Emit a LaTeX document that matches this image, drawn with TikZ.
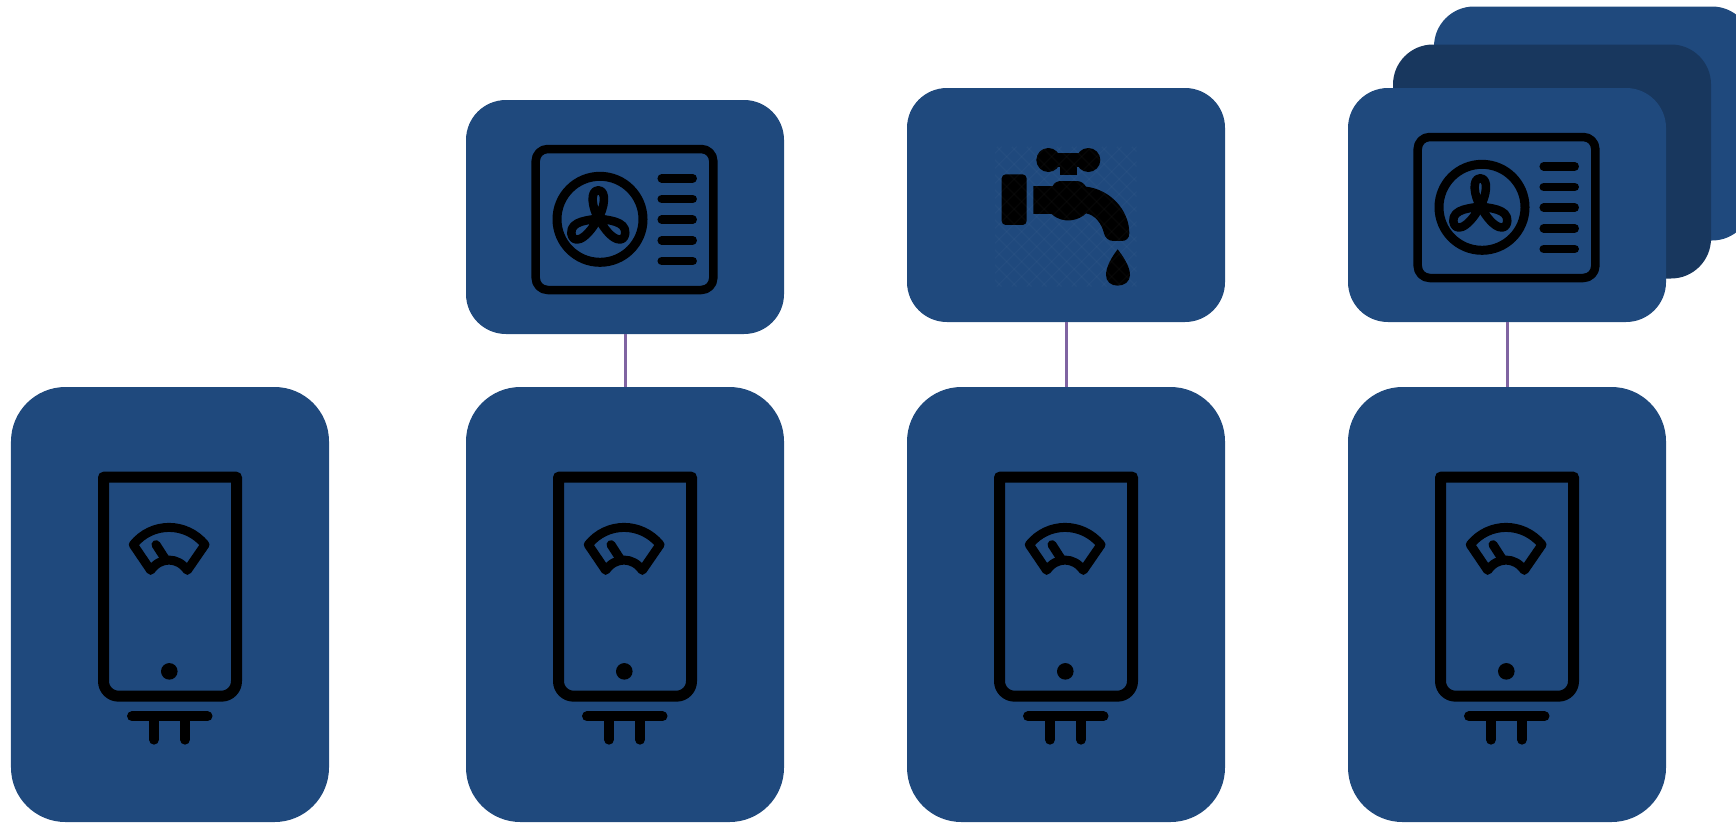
\documentclass[tikz,border=0pt]{standalone}
\usepackage{tikz}
\definecolor{BoxBlue}{RGB}{31,73,125}
\definecolor{BoxDark}{RGB}{24,55,94}
\definecolor{LinkPurple}{RGB}{128,100,162}
\tikzset{
  iconline/.style={black,line cap=round,line join=round},
  tankbox/.style={fill=BoxBlue,rounded corners=10.9mm,minimum width=63.6mm,minimum height=87mm,inner sep=0pt},
  unitbox/.style={fill=BoxBlue,rounded corners=8mm,minimum width=63.6mm,minimum height=46.8mm,inner sep=0pt},
  linkline/.style={LinkPurple,line width=.6mm},
  tankicon/.pic={
    \draw[iconline,line width=2.2mm] (-66.5,90.5) -- (66.5,90.5)
      [rounded corners=3mm] -- (66.5,309.5) -- (-66.5,309.5) [sharp corners] -- cycle;
    \draw[iconline,line width=1.8mm] (-36.7,158) .. controls (-18,135) and (16,135) .. (35,158)
      -- (17.3,183.7) .. controls (8,170) and (-10,170) .. (-19.3,183.7) -- cycle;
    \draw[iconline,line width=1.8mm] (-14,158) -- (-5,172);
    \fill (-.7,284.7) circle (8.3);
    \draw[iconline,line width=2mm] (-38,329.7) -- (37.5,329.7);
    \draw[iconline,line width=2mm] (-16,329.7) -- (-16,353);
    \draw[iconline,line width=2mm] (15,329.7) -- (15,353);
  },
  fanicon/.pic={
    \draw[iconline,line width=1.7mm,rounded corners=2.4mm] (-89.3,-68) rectangle (88.3,73);
    \draw[iconline,line width=1.8mm] (-25,2.3) circle (43);
    % three blades
    \begin{scope}[shift={(-26.7,1.3)}]
      \draw[iconline,line width=1.7mm] (0,0) .. controls (-6,-10) and (-9,-28) .. (0,-28)
        .. controls (9,-28) and (6,-10) .. (0,0);
      \draw[iconline,line width=1.7mm] (0,0) .. controls (-8,2) and (-28,2) .. (-27,15)
        .. controls (-26,25) and (-14,25) .. (0,0);
      \draw[iconline,line width=1.7mm] (0,0) .. controls (8,2) and (28,2) .. (27,15)
        .. controls (26,25) and (14,25) .. (0,0);
    \end{scope}
    \foreach \ventY in {-38.7,-18,2.7,23.3,44}
      \draw[iconline,line width=1.7mm] (36.7,\ventY) -- (67.7,\ventY);
  },
  tapicon/.pic={
    \begin{scope}[shift={(-86,-75)},scale=.3333]
      \fill[rounded corners=.8mm] (65,133) rectangle (140,285);
      \fill (205,90) circle (36);
      \fill (325,90) circle (36);
      \fill (205,68) rectangle (325,112);
      \fill (240,100) rectangle (290,135);
      \fill (160,168) -- (218,168) .. controls (222,158) and (232,153) .. (245,153)
        -- (290,153) .. controls (302,153) and (312,160) .. (318,170)
        .. controls (390,178) and (448,240) .. (448,310)
        .. controls (448,325) and (438,333) .. (425,333) -- (400,333)
        .. controls (385,333) and (375,322) .. (372,310)
        .. controls (365,280) and (345,255) .. (318,250)
        .. controls (300,270) and (250,285) .. (215,252) -- (160,252) -- cycle;
      \fill (413,358) .. controls (430,380) and (450,410) .. (450,435)
        .. controls (450,455) and (433,467) .. (413,467)
        .. controls (393,467) and (378,455) .. (378,435)
        .. controls (378,410) and (396,380) .. (413,358) -- cycle;
      % faint grid left over in the icon
      \begin{scope}
        \clip (45,50) rectangle (470,470);
        \foreach \gridX in {-400,-355,...,470} {
          \draw[white,opacity=.025,line width=.25mm] (\gridX,50) -- (\gridX+420,470);
          \draw[white,opacity=.025,line width=.25mm] (\gridX,470) -- (\gridX+420,50);
        }
      \end{scope}
    \end{scope}
  }
}
\begin{document}
\begin{tikzpicture}[x=.2mm,y=-.2mm]
      \useasboundingbox (0,0) rectangle (1736,822);
      \clip (0,0) rectangle (1736,822);
      % stack behind the last unit
      \node[unitbox] (unitDback) at (1593,123.5) {};
      \node[unitbox,fill=BoxDark] (unitDmid) at (1552,161.5) {};
      % outdoor units
      \node[unitbox] (unitB) at (625,217) {};
      \node[unitbox] (unitC) at (1066,205) {};
      \node[unitbox] (unitD) at (1507,205) {};
      % tanks
      \node[tankbox] (tankA) at (170,604.5) {};
      \node[tankbox] (tankB) at (625,604.5) {};
      \node[tankbox] (tankC) at (1066,604.5) {};
      \node[tankbox] (tankD) at (1507,604.5) {};
      \foreach \tankName in {tankA,tankB,tankC,tankD}
        \pic at (\tankName.north) {tankicon};
      \pic at (unitB) {fanicon};
      \pic at (unitC) {tapicon};
      \pic at (unitD) {fanicon};
      \draw[linkline] (unitB) -- (tankB);
      \draw[linkline] (unitC) -- (tankC);
      \draw[linkline] (unitD) -- (tankD);
    \end{tikzpicture}
\end{document}
